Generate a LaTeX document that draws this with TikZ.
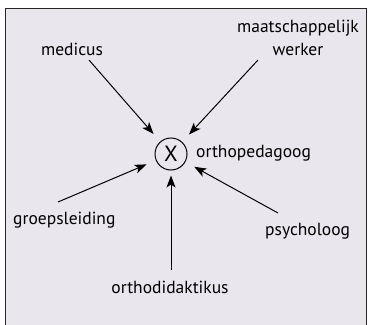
\documentclass[tikz,border=0pt]{standalone}
\usepackage{fontspec}
\setmainfont{PT Sans}
\usetikzlibrary{arrows.meta}
\definecolor{bgpanel}{RGB}{233,230,237}
\tikzset{
  lbl/.style={font=\fontsize{17.5}{23}\selectfont, inner sep=0pt},
  arr/.style={line width=1pt, -{Stealth[length=12pt,width=9pt,inset=3pt]}, shorten >=10pt},
}
\begin{document}
\begin{tikzpicture}[x=1pt,y=-1pt]
\useasboundingbox (0,0) rectangle (369,324);
\fill[white] (0,0) rectangle (369,324);
\filldraw[fill=bgpanel, draw=black!85, line width=1pt] (5,8) rectangle (366,340);
\node[circle, draw, line width=1pt, minimum size=32pt, inner sep=0pt, font=\fontsize{22}{22}\selectfont] (X) at (171,154) {X};
\node[lbl, anchor=base] (med) at (72,55) {medicus};
\node[lbl, anchor=base, align=center] (maat) at (298,55) {maatschappelijk\\werker};
\node[lbl, anchor=base west] (orp) at (196,157) {orthopedagoog};
\node[lbl, anchor=base west] (groep) at (13,224) {groepsleiding};
\node[lbl, anchor=base west] (psy) at (265,235) {psycholoog};
\node[lbl, anchor=base] (ordi) at (170,293) {orthodidaktikus};
\coordinate (tmed) at (89,60);
\coordinate (tmaat) at (258,60);
\coordinate (tgroep) at (58,202);
\coordinate (tordi) at (171,270);
\coordinate (tpsy) at (278,213);
\draw[arr] (tmed) -- (X);
\draw[arr] (tmaat) -- (X);
\draw[arr] (tgroep) -- (X);
\draw[arr, shorten >=5pt] (tordi) -- (X);
\draw[arr] (tpsy) -- (X);
\end{tikzpicture}
\end{document}
